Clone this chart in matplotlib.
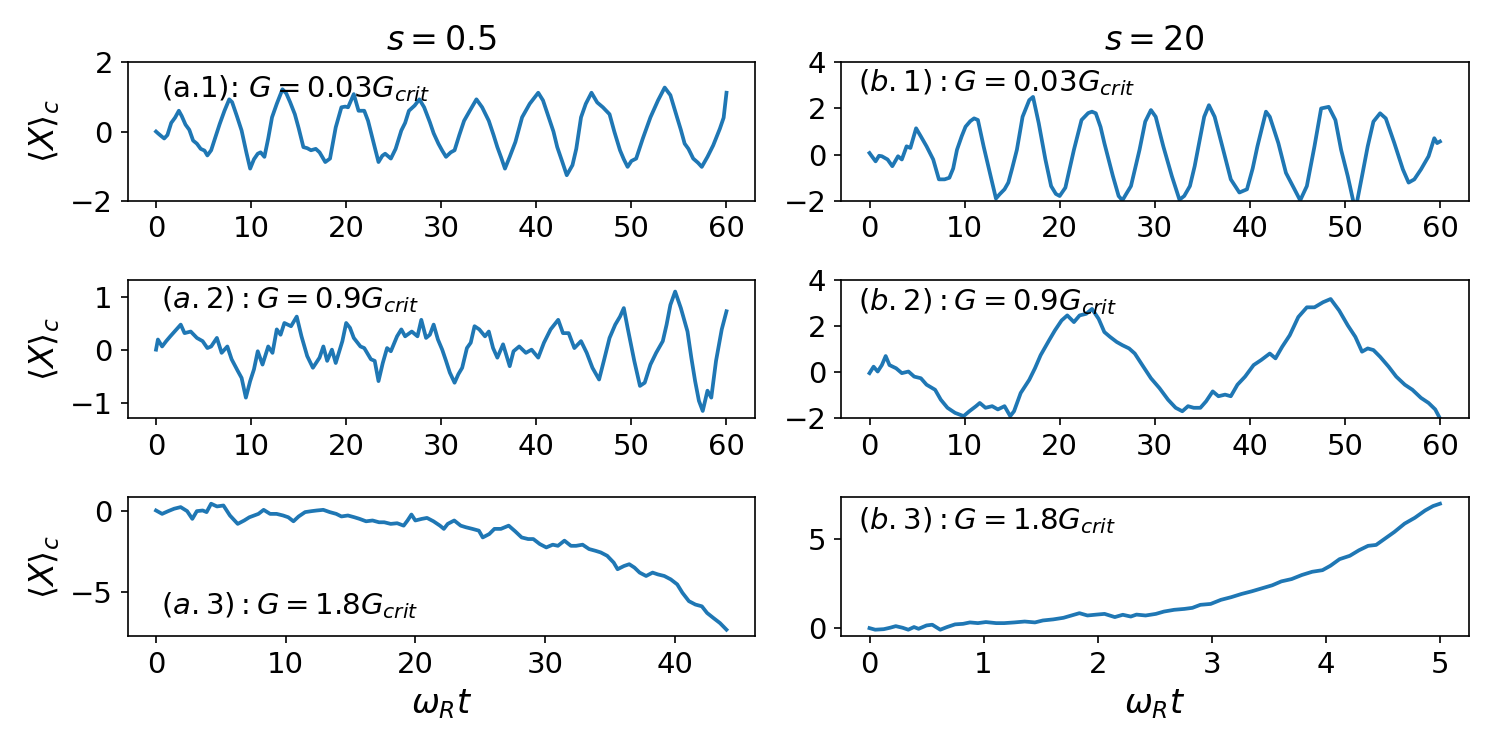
import numpy as np
import matplotlib.pyplot as plt

# (a.1) s=0.5, G=0.03Gcrit
t_a1 = [0, 0.2, 0.5, 0.86, 1.2, 1.6, 2.0, 2.4, 2.7, 3.1, 3.5, 3.9, 4.3, 4.7, 5.1, 5.4, 5.8,
        6.2, 6.7, 7.2, 7.7, 8.0, 8.5, 9.0, 9.5, 9.9, 10.3, 10.7, 11.0, 11.4, 11.8, 12.2, 12.7,
        13.3, 13.7, 14.1, 14.6, 15.0, 15.5, 15.9, 16.3, 16.8, 17.2, 17.8, 18.3, 18.9, 19.5,
        19.9, 20.2, 20.8, 21.3, 21.9, 22.3, 23.0, 23.4, 23.8, 24.1, 24.7, 25.2, 25.8, 26.2,
        26.6, 27.2, 27.7, 28.2, 28.8, 29.2, 29.7, 30.1, 30.5, 31.0, 31.4, 31.9, 32.4, 33.0,
        33.7, 34.3, 35.0, 35.5, 35.9, 36.3, 36.7, 37.2, 37.8, 38.5, 39.3, 40.2, 40.7, 41.3,
        41.8, 42.2, 42.7, 43.2, 43.8, 44.2, 44.7, 45.2, 45.8, 46.4, 47.0, 47.7, 48.2, 48.8,
        49.2, 49.6, 50.0, 50.5, 51.2, 52.0, 52.8, 53.5, 54.1, 54.8, 55.2, 55.6, 56.0, 56.5,
        57.0, 57.4, 58.0, 58.6, 59.3, 59.7, 60.0]
x_a1 = [0.0, -0.05, -0.12, -0.2, -0.1, 0.25, 0.4, 0.6, 0.45, 0.2, 0.05, -0.26, -0.35, -0.5, -0.55, -0.69, -0.54,
        -0.2, 0.22, 0.6, 0.93, 0.85, 0.45, 0.03, -0.6, -1.07, -0.8, -0.64, -0.6, -0.73, -0.2, 0.41, 0.8,
        1.22, 1.1, 0.85, 0.5, 0.1, -0.45, -0.48, -0.54, -0.5, -0.6, -0.88, -0.78, 0.12, 0.7,
        0.72, 0.7, 1.08, 0.6, 0.6, 0.31, -0.45, -0.88, -0.7, -0.64, -0.78, -0.5, 0.03, 0.25,
        0.6, 0.75, 0.93, 0.7, 0.27, -0.05, -0.35, -0.55, -0.73, -0.6, -0.54, -0.1, 0.31, 0.6,
        0.93, 0.7, 0.31, -0.1, -0.45, -0.75, -1.07, -0.73, -0.3, 0.41, 0.8, 1.12, 0.9, 0.41,
        0.0, -0.45, -0.85, -1.26, -0.97, -0.5, 0.41, 0.8, 1.12, 0.84, 0.7, 0.5, 0.0, -0.54,
        -0.8, -1.02, -0.85, -0.78, -0.2, 0.41, 0.9, 1.27, 1.05, 0.41, 0.05, -0.35, -0.5, -0.78,
        -0.9, -1.02, -0.73, -0.4, 0.08, 0.4, 1.12]

# (b.1) s=20, G=0.03Gcrit
t_b1 = [0, 0.3, 0.64, 1.0, 1.3, 1.9, 2.4, 3.0, 3.4, 3.9, 4.3, 4.9, 5.4, 6.0, 6.7, 7.3, 7.9,
        8.4, 8.8, 9.2, 9.7, 10.1, 10.6, 11.0, 11.4, 12.0, 12.7, 13.3, 13.7, 14.2, 14.6, 15.0,
        15.5, 16.1, 16.8, 17.2, 17.8, 18.5, 19.1, 19.6, 20.0, 20.6, 21.0, 21.5, 22.3, 23.0,
        23.4, 23.8, 24.3, 24.7, 25.6, 26.2, 26.6, 27.0, 27.5, 28.4, 29.0, 29.6, 30.1, 30.9,
        31.8, 32.6, 33.1, 33.7, 34.2, 34.6, 35.2, 35.7, 36.3, 37.2, 38.0, 38.9, 39.7, 40.3,
        40.8, 41.7, 42.1, 43.0, 43.8, 44.7, 45.3, 46.0, 46.8, 47.5, 48.3, 49.0, 49.6, 50.3,
        50.9, 51.2, 51.8, 52.4, 53.0, 53.7, 54.3, 55.2, 56.1, 56.7, 57.3, 58.0, 58.8, 59.4,
        59.7, 60.0]
x_b1 = [0.07, -0.1, -0.29, -0.05, -0.07, -0.21, -0.5, -0.07, -0.21, 0.36, 0.29, 1.14, 0.79, 0.36, -0.21, -1.07, -1.07,
        -1.0, -0.6, 0.21, 0.8, 1.21, 1.45, 1.57, 1.5, 0.36, -0.86, -1.9, -1.71, -1.5, -1.21, -0.6,
        0.21, 1.64, 2.36, 2.5, 1.36, -0.21, -1.36, -1.7, -1.79, -1.43, -0.7, 0.21, 1.5, 1.8,
        1.86, 1.79, 1.2, 0.5, -0.93, -1.79, -1.98, -1.7, -1.36, 0.21, 1.43, 1.93, 1.64, 0.36,
        -0.93, -1.95, -1.79, -1.36, -0.5, 0.36, 1.64, 2.14, 1.64, 0.21, -1.07, -1.64, -1.5, -0.6,
        0.36, 1.86, 1.64, 0.5, -0.79, -1.5, -1.98, -1.36, 0.36, 2.0, 2.07, 1.5, 0.21, -0.93,
        -2.05, -2.2, -0.93, 0.36, 1.43, 1.79, 1.57, 0.5, -0.64, -1.21, -1.07, -0.64, -0.07, 0.71,
        0.5, 0.57]

# (a.2) s=0.5, G=0.9Gcrit
t_a2 = [0, 0.2, 0.64, 1.07, 1.5, 2.15, 2.6, 3.0, 3.65, 4.3, 4.9, 5.4, 5.8, 6.4, 6.9, 7.5, 7.95,
        8.6, 9.0, 9.45, 9.9, 10.3, 10.7, 11.2, 11.8, 12.25, 12.7, 13.1, 13.5, 14.2, 14.8, 15.3,
        15.9, 16.5, 17.2, 17.6, 18.0, 18.5, 18.9, 19.6, 20.0, 20.4, 20.8, 21.5, 21.9, 22.6,
        23.0, 23.4, 23.85, 24.3, 24.7, 25.35, 25.8, 26.2, 26.9, 27.5, 27.9, 28.4, 28.8, 29.2,
        29.65, 30.1, 30.5, 30.9, 31.4, 31.8, 32.2, 32.7, 33.1, 33.5, 34.0, 34.6, 35.0, 35.45,
        35.9, 36.5, 37.2, 37.6, 38.2, 38.9, 39.5, 40.2, 40.8, 41.5, 42.3, 42.8, 43.4, 44.0,
        44.7, 45.3, 45.9, 46.6, 47.1, 47.7, 48.3, 48.8, 49.2, 49.6, 50.3, 50.9, 51.4, 52.0,
        52.6, 53.3, 53.7, 54.1, 54.6, 55.2, 55.9, 56.3, 56.7, 57.1, 57.5, 58.0, 58.4, 58.9,
        59.5, 60.0]
x_a2 = [0.01, 0.2, 0.07, 0.17, 0.26, 0.39, 0.48, 0.32, 0.35, 0.23, 0.17, 0.04, 0.07, 0.23, -0.05, 0.07, -0.17,
        -0.39, -0.52, -0.89, -0.58, -0.36, -0.02, -0.27, 0.07, -0.05, 0.39, 0.29, 0.51, 0.45, 0.63, 0.26,
        -0.11, -0.33, -0.14, 0.07, -0.2, 0.01, -0.24, 0.17, 0.51, 0.42, 0.23, 0.07, 0.04, -0.17,
        -0.2, -0.58, -0.24, 0.04, -0.02, 0.26, 0.39, 0.26, 0.35, 0.26, 0.57, 0.23, 0.29, 0.48,
        0.2, 0.01, -0.2, -0.42, -0.61, -0.45, -0.33, 0.04, 0.14, 0.45, 0.39, 0.26, 0.35, 0.04,
        -0.14, 0.11, -0.3, -0.02, 0.07, -0.05, 0.01, -0.14, 0.14, 0.39, 0.57, 0.32, 0.32, 0.04,
        0.17, -0.05, -0.33, -0.55, -0.2, 0.23, 0.48, 0.63, 0.79, 0.42, -0.2, -0.67, -0.61, -0.27,
        -0.05, 0.17, 0.48, 0.85, 1.1, 0.79, 0.35, -0.14, -0.58, -0.95, -1.14, -0.76, -0.89, -0.2,
        0.39, 0.73]

# (b.2) s=20, G=0.9Gcrit
t_b2 = [0, 0.43, 0.86, 1.3, 1.7, 2.1, 2.8, 3.4, 4.1, 4.7, 5.4, 6.0, 6.9, 7.5, 8.2, 9.0, 9.9,
        10.5, 11.2, 11.6, 12.2, 12.9, 13.5, 14.2, 14.8, 15.2, 15.9, 16.8, 17.4, 18.0, 18.9,
        19.5, 20.2, 20.8, 21.5, 22.1, 22.8, 23.4, 24.1, 24.7, 25.3, 26.0, 26.6, 27.3, 27.9,
        28.8, 29.6, 30.5, 31.4, 32.2, 32.9, 33.5, 34.1, 34.8, 35.4, 36.1, 36.7, 37.4, 38.0,
        38.7, 39.5, 40.4, 41.2, 42.1, 42.7, 43.4, 44.2, 45.1, 46.0, 46.8, 47.7, 48.5, 49.4,
        50.3, 51.1, 51.8, 52.4, 53.0, 53.7, 54.6, 55.4, 56.3, 57.1, 58.0, 58.8, 59.5, 60.0]
x_b2 = [-0.04, 0.24, 0.03, 0.31, 0.7, 0.31, 0.17, -0.04, 0.03, -0.19, -0.26, -0.54, -0.76, -1.19, -1.54, -1.76, -1.9,
        -1.69, -1.47, -1.33, -1.54, -1.47, -1.61, -1.47, -1.9, -1.69, -0.9, -0.33, 0.17, 0.74, 1.39,
        1.81, 2.24, 2.46, 2.17, 2.46, 2.53, 2.74, 2.31, 1.74, 1.53, 1.31, 1.17, 1.03, 0.81,
        0.24, -0.26, -0.69, -1.19, -1.54, -1.69, -1.47, -1.54, -1.54, -1.26, -0.83, -1.04, -0.97, -1.04,
        -0.54, -0.19, 0.31, 0.53, 0.81, 0.6, 1.1, 1.6, 2.39, 2.81, 2.81, 3.03, 3.17, 2.67,
        2.03, 1.53, 0.89, 1.03, 0.96, 0.67, 0.24, -0.19, -0.54, -0.76, -1.11, -1.33, -1.61, -2.0]

# (a.3) s=0.5, G=1.8Gcrit
t_a3 = [0, 0.47, 0.94, 1.4, 1.9, 2.4, 2.8, 3.15, 3.6, 3.9, 4.25, 4.7, 5.2, 5.7, 6.3, 6.8, 7.2,
        7.9, 8.3, 8.8, 9.3, 9.8, 10.2, 10.6, 11.0, 11.5, 12.0, 12.4, 12.9, 13.4, 13.9, 14.3,
        14.8, 15.3, 15.7, 16.2, 16.7, 17.2, 17.6, 18.1, 18.6, 19.1, 19.4, 19.7, 20.0, 20.5,
        20.9, 21.4, 21.9, 22.2, 22.5, 23.0, 23.5, 23.9, 24.4, 24.9, 25.2, 25.7, 26.1, 26.6,
        27.2, 27.7, 28.2, 28.7, 29.1, 29.6, 30.1, 30.6, 31.0, 31.5, 32.0, 32.4, 32.9, 33.4,
        33.9, 34.3, 34.8, 35.3, 35.6, 36.1, 36.5, 36.9, 37.3, 37.8, 38.3, 38.7, 39.2, 39.7,
        40.2, 40.6, 41.1, 41.6, 42.1, 42.5, 43.0, 43.5, 44.0]
x_a3 = [0.04, -0.17, 0.0, 0.15, 0.25, 0.0, -0.48, 0.0, 0.04, -0.06, 0.46, 0.29, 0.35, -0.27, -0.79, -0.58, -0.38,
        -0.17, 0.08, -0.17, -0.17, -0.27, -0.38, -0.63, -0.33, -0.06, 0.0, 0.04, 0.08, -0.06, -0.17, -0.33,
        -0.27, -0.38, -0.48, -0.63, -0.58, -0.69, -0.69, -0.79, -0.75, -0.9, -0.58, -0.21, -0.58, -0.48,
        -0.42, -0.63, -0.9, -1.1, -0.79, -0.58, -0.9, -1.0, -1.1, -1.21, -1.63, -1.42, -1.1, -1.1,
        -0.9, -1.25, -1.63, -1.73, -1.73, -2.04, -2.25, -2.08, -2.15, -1.83, -2.15, -2.15, -2.08, -2.35,
        -2.46, -2.56, -2.77, -3.19, -3.6, -3.4, -3.29, -3.5, -3.81, -4.02, -3.81, -3.92, -4.02, -4.23,
        -4.54, -5.06, -5.58, -5.79, -5.9, -6.31, -6.63, -6.94, -7.35]

# (b.3) s=20, G=1.8Gcrit
t_b3 = [0, 0.05, 0.125, 0.18, 0.23, 0.29, 0.34, 0.39, 0.43, 0.5, 0.55, 0.62, 0.68, 0.75, 0.82, 0.88,
        0.95, 1.02, 1.11, 1.18, 1.27, 1.36, 1.45, 1.52, 1.61, 1.7, 1.77, 1.84, 1.91, 1.99, 2.06,
        2.15, 2.22, 2.29, 2.34, 2.42, 2.51, 2.58, 2.67, 2.76, 2.83, 2.9, 2.99, 3.08, 3.17, 3.26,
        3.35, 3.44, 3.53, 3.61, 3.7, 3.79, 3.88, 3.97, 4.04, 4.12, 4.21, 4.29, 4.37, 4.44, 4.51,
        4.6, 4.69, 4.78, 4.87, 4.94, 5.0]
x_b3 = [0.0, -0.09, -0.06, 0.02, 0.11, 0.02, -0.09, 0.06, -0.04, 0.15, 0.19, -0.09, 0.06, 0.21, 0.24, 0.32,
        0.28, 0.34, 0.28, 0.28, 0.32, 0.37, 0.32, 0.43, 0.49, 0.58, 0.71, 0.84, 0.71, 0.76, 0.8,
        0.62, 0.75, 0.65, 0.76, 0.71, 0.8, 0.93, 1.03, 1.08, 1.14, 1.31, 1.36, 1.59, 1.74, 1.92,
        2.07, 2.24, 2.41, 2.63, 2.76, 2.99, 3.17, 3.26, 3.51, 3.88, 4.07, 4.38, 4.63, 4.68, 5.0,
        5.41, 5.88, 6.21, 6.62, 6.87, 7.0]

labels = [["(a.1): $G = 0.03G_{crit}$", r"$(b.1): G = 0.03G_{crit}$"],
          [r"$(a.2): G = 0.9G_{crit}$", r"$(b.2): G = 0.9G_{crit}$"],
          [r"$(a.3): G = 1.8G_{crit}$", r"$(b.3): G = 1.8G_{crit}$"]]
label_pos = [[(0.053, 0.81), (0.027, 0.85)],
             [(0.053, 0.855), (0.027, 0.84)],
             [(0.053, 0.22), (0.027, 0.835)]]

plt.rcParams['font.size'] = 14

fig, axs = plt.subplots(3, 2, figsize=(10, 5), dpi=150)
fig.subplots_adjust(left=0.085, right=0.979, top=0.917, bottom=0.152, wspace=0.137, hspace=0.57)

series = [[(t_a1, x_a1), (t_b1, x_b1)],
          [(t_a2, x_a2), (t_b2, x_b2)],
          [(t_a3, x_a3), (t_b3, x_b3)]]

for i in range(3):
    for j in range(2):
        ax = axs[i, j]
        t, x = series[i][j]
        ax.plot(np.array(t), np.array(x), color='tab:blue', lw=1.8)
        ax.text(label_pos[i][j][0], label_pos[i][j][1], labels[i][j],
                transform=ax.transAxes, va='center', ha='left', fontsize=14)
        if j == 0:
            ax.set_ylabel(r'$\langle X \rangle_c$', fontsize=16)

axs[0, 0].set_ylim(-2, 2)
axs[0, 0].set_yticks([-2, 0, 2])
axs[0, 1].set_ylim(-2, 4)
axs[0, 1].set_yticks([-2, 0, 2, 4])
axs[1, 0].set_ylim(-1.28, 1.32)
axs[1, 0].set_yticks([-1, 0, 1])
axs[1, 1].set_ylim(-2, 4)
axs[1, 1].set_yticks([-2, 0, 2, 4])
axs[2, 0].set_yticks([-5, 0])
axs[2, 1].set_yticks([0, 5])
axs[2, 1].set_xticks([0, 1, 2, 3, 4, 5])

axs[0, 0].set_title('$s = 0.5$', fontsize=16)
axs[0, 1].set_title('$s = 20$', fontsize=16)
axs[2, 0].set_xlabel(r'$\omega_R t$', fontsize=16)
axs[2, 1].set_xlabel(r'$\omega_R t$', fontsize=16)

fig.savefig('out.png', dpi=150)
